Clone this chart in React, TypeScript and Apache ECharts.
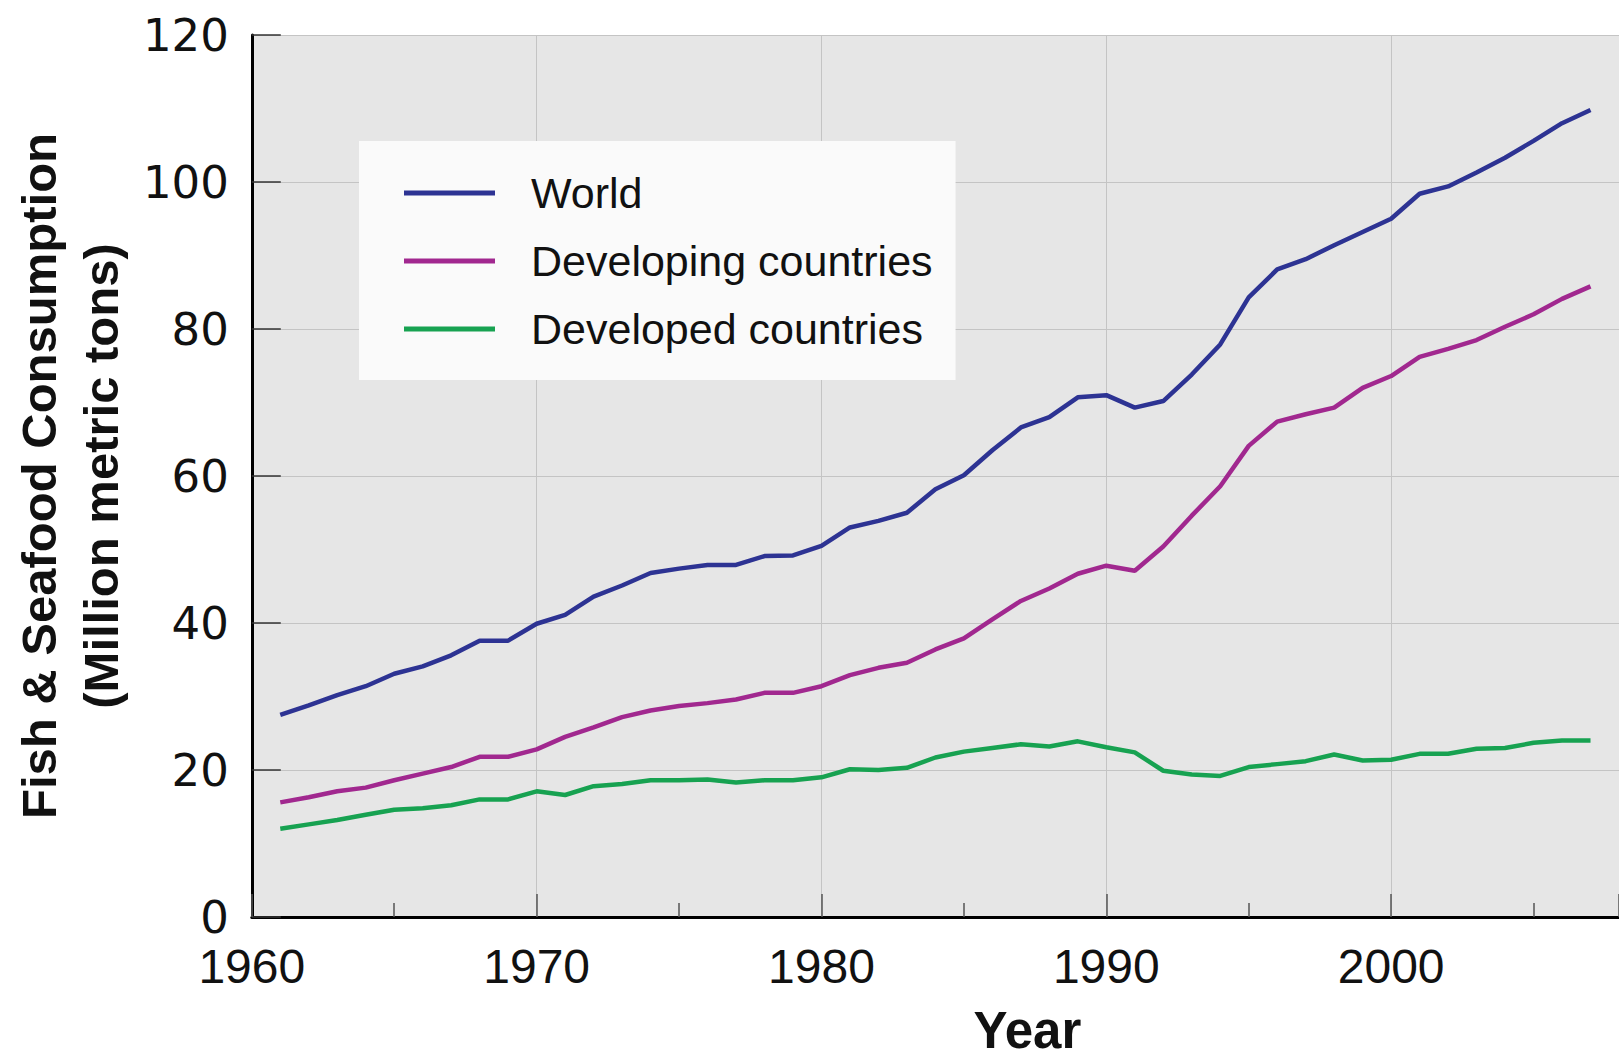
import React, { useEffect, useRef } from "react";
import * as echarts from "echarts";

const years: number[] = [];
for (let y = 1961; y <= 2007; y++) years.push(y);

const world = [
  27.5, 28.8, 30.2, 31.4, 33.1, 34.1, 35.6, 37.6, 37.6, 39.9,
  41.1, 43.6, 45.1, 46.8, 47.4, 47.9, 47.9, 49.1, 49.2, 50.5,
  53.0, 53.9, 55.0, 58.2, 60.1, 63.5, 66.6, 68.0, 70.7, 71.0,
  69.3, 70.2, 73.8, 77.9, 84.3, 88.1, 89.5, 91.4, 93.2, 95.0,
  98.4, 99.4, 101.3, 103.3, 105.6, 108.0, 109.8,
];
const developing = [
  15.6, 16.3, 17.1, 17.6, 18.6, 19.5, 20.4, 21.8, 21.8, 22.8,
  24.5, 25.8, 27.2, 28.1, 28.7, 29.1, 29.6, 30.5, 30.5, 31.4,
  32.9, 33.9, 34.6, 36.4, 37.9, 40.5, 43.0, 44.7, 46.7, 47.8,
  47.1, 50.4, 54.6, 58.6, 64.1, 67.4, 68.4, 69.3, 72.0, 73.6,
  76.2, 77.3, 78.5, 80.3, 82.0, 84.1, 85.8,
];
const developed = [
  12.0, 12.6, 13.2, 13.9, 14.6, 14.8, 15.2, 16.0, 16.0, 17.1,
  16.6, 17.8, 18.1, 18.6, 18.6, 18.7, 18.3, 18.6, 18.6, 19.0,
  20.1, 20.0, 20.3, 21.7, 22.5, 23.0, 23.5, 23.2, 23.9, 23.1,
  22.4, 19.9, 19.4, 19.2, 20.4, 20.8, 21.2, 22.1, 21.3, 21.4,
  22.2, 22.2, 22.9, 23.0, 23.7, 24.0, 24.0,
];

const seriesNames = ["World", "Developing countries", "Developed countries"];
const seriesColors = ["#2d3393", "#a1288f", "#17a251"];

const yTitle = "Fish & Seafood Consumption\n(Million metric tons)";
const xTitle = "Year";

export default function App() {
  const ref = useRef<HTMLDivElement>(null);
  useEffect(() => {
    if (!ref.current) return;
    const chart = echarts.init(ref.current, null, { renderer: "svg" });
    const all = [world, developing, developed];
    const narrow = "'Liberation Sans Narrow', 'Liberation Sans', Arial, sans-serif";
    chart.setOption({
      animation: false,
      backgroundColor: "#ffffff",
      grid: {
        left: 242,
        top: 35,
        right: 0,
        height: 892,
        show: true,
        backgroundColor: "#e6e6e6",
        borderWidth: 0,
      },
      legend: {
        orient: "vertical",
        left: 359,
        top: 141,
        padding: [28, 23, 27, 45],
        backgroundColor: "#fafafa",
        itemWidth: 91,
        itemHeight: 5,
        itemGap: 20,
        icon: "rect",
        data: seriesNames,
        textStyle: {
          fontFamily: narrow,
          fontSize: 43,
          lineHeight: 48,
          color: "#111",
          padding: [0, 0, 0, 31],
        },
      },
      xAxis: {
        type: "value",
        min: 1960,
        max: 2008,
        interval: 10,
        name: xTitle,
        nameLocation: "middle",
        nameGap: 88,
        nameTextStyle: {
          fontFamily: narrow,
          fontWeight: "bold",
          fontSize: 51,
          color: "#111",
          padding: [0, 0, 0, 184],
        },
        axisLine: { show: true, lineStyle: { color: "#000", width: 3 } },
        axisTick: { show: true, inside: true, length: 23, lineStyle: { color: "#555", width: 1.5 } },
        minorTick: { show: true, splitNumber: 2, length: 14, lineStyle: { color: "#555", width: 1.5 } },
        axisLabel: {
          margin: 26,
          fontFamily: "'Liberation Sans', Arial, sans-serif",
          fontSize: 48,
          lineHeight: 46,
          color: "#111",
          showMaxLabel: false,
          formatter: (v: number) => String(v),
        },
        splitLine: { show: true, lineStyle: { color: "#c4c4c4", width: 1 } },
      },
      yAxis: {
        type: "value",
        min: 0,
        max: 120,
        interval: 20,
        name: yTitle,
        nameLocation: "middle",
        nameRotate: 90,
        nameGap: 113,
        nameTextStyle: {
          fontFamily: narrow,
          fontWeight: "bold",
          fontSize: 49,
          lineHeight: 62,
          color: "#111",
        },
        axisLine: { show: true, lineStyle: { color: "#000", width: 3 } },
        axisTick: { show: true, inside: true, length: 29, lineStyle: { color: "#333", width: 1.5 } },
        axisLabel: {
          margin: 23,
          fontFamily: "'DejaVu Sans', sans-serif",
          fontSize: 45,
          lineHeight: 38,
          padding: [0, 0, 10, 0],
          color: "#111",
        },
        splitLine: { show: true, lineStyle: { color: "#c4c4c4", width: 1 } },
      },
      series: seriesNames.map((name, i) => ({
        name,
        type: "line",
        showSymbol: false,
        symbol: "none",
        lineStyle: { color: seriesColors[i], width: 4.5 },
        itemStyle: { color: seriesColors[i] },
        data: years.map((yr, j) => [yr, all[i][j]]),
      })),
    });
    return () => chart.dispose();
  }, []);
  return (
    <div
      ref={ref}
      style={{ position: "absolute", left: 0, top: 0, width: 1619, height: 1061 }}
    />
  );
}
